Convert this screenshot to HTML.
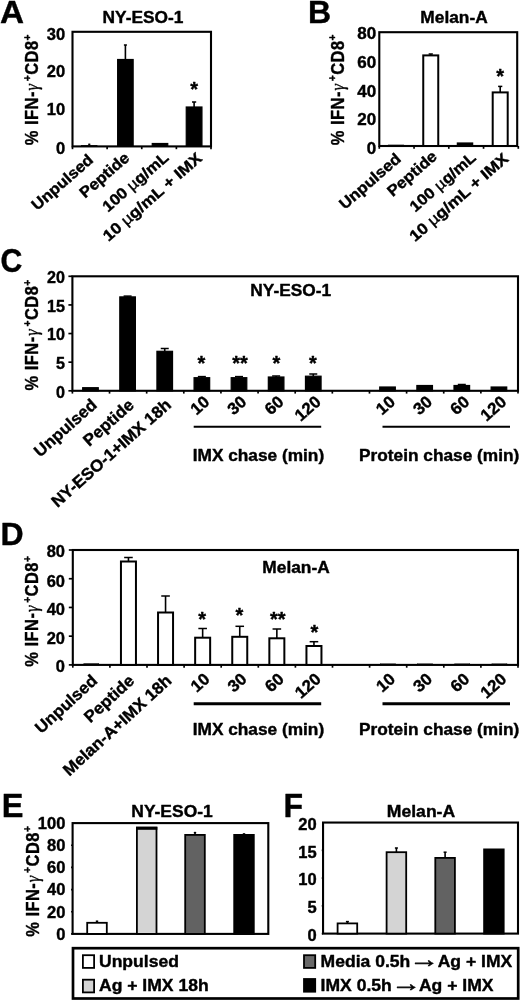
<!DOCTYPE html>
<html><head><meta charset="utf-8"><title>Figure</title>
<style>
html,body{margin:0;padding:0;background:#fff;}
svg{display:block;font-family:"Liberation Sans", Arial, sans-serif;font-weight:bold;fill:#000;}
text{stroke:#000;stroke-width:0.4px;stroke-linejoin:round;}
</style></head><body>
<svg width="520" height="1001" viewBox="0 0 520 1001">
<rect width="520" height="1001" fill="#fff" stroke="none"/>
<text transform="translate(0,23.1) scale(1.04,1)" font-size="32" >A</text>
<rect x="72.5" y="31.8" width="138.5" height="114.6" fill="none" stroke="#000" stroke-width="2.1"/>
<text transform="translate(65.2,40.2)" font-size="16.5" text-anchor="end" >30</text>
<text transform="translate(65.2,76.9)" font-size="16.5" text-anchor="end" >20</text>
<text transform="translate(65.2,115.4)" font-size="16.5" text-anchor="end" >10</text>
<text transform="translate(65.2,154.1)" font-size="16.5" text-anchor="end" >0</text>
<line x1="72.5" y1="146.4" x2="72.5" y2="149.2" stroke="#000" stroke-width="1.68"/>
<line x1="107.12" y1="146.4" x2="107.12" y2="149.2" stroke="#000" stroke-width="1.68"/>
<line x1="141.75" y1="146.4" x2="141.75" y2="149.2" stroke="#000" stroke-width="1.68"/>
<line x1="176.38" y1="146.4" x2="176.38" y2="149.2" stroke="#000" stroke-width="1.68"/>
<line x1="211" y1="146.4" x2="211" y2="149.2" stroke="#000" stroke-width="1.68"/>
<text transform="translate(143,22.8) scale(1.05,1)" font-size="16.5" text-anchor="middle" >NY-ESO-1</text>
<text transform="translate(38.2,89.6) rotate(-90) scale(0.889,1)" font-size="18.5" text-anchor="middle" letter-spacing="0.55">% IFN-<tspan dx="0.6" font-family="Liberation Serif, serif" font-style="italic" font-weight="normal">γ</tspan><tspan dx="2.6" dy="-7.2" font-size="11.5">+</tspan><tspan dy="7.2">CD8</tspan><tspan dy="-7.2" font-size="11.5">+</tspan></text>
<line x1="89.3" y1="144.3" x2="89.3" y2="145.3" stroke="#000" stroke-width="1.6"/>
<line x1="88.3" y1="144.3" x2="90.3" y2="144.3" stroke="#000" stroke-width="1.5"/>
<rect x="81.55" y="145.3" width="15.5" height="1.1" fill="#000" stroke="#000" stroke-width="0.6"/>
<line x1="125.4" y1="45" x2="125.4" y2="59.5" stroke="#000" stroke-width="1.6"/>
<line x1="123.9" y1="45" x2="126.9" y2="45" stroke="#000" stroke-width="1.5"/>
<rect x="117.65" y="59.5" width="15.5" height="86.9" fill="#000" stroke="#000" stroke-width="1.2"/>
<rect x="152.25" y="143.5" width="15.5" height="2.9" fill="#000" stroke="#000" stroke-width="1.2"/>
<line x1="194.1" y1="102" x2="194.1" y2="107" stroke="#000" stroke-width="1.6"/>
<line x1="192" y1="102" x2="196.2" y2="102" stroke="#000" stroke-width="1.5"/>
<rect x="186.25" y="107" width="15.7" height="39.4" fill="#000" stroke="#000" stroke-width="1.2"/>
<text transform="translate(194.1,96.2)" font-size="20" text-anchor="middle" >*</text>
<text transform="translate(94.3,161.3) rotate(-41) scale(1.075,1)" font-size="15.5" text-anchor="end" >Unpulsed</text>
<text transform="translate(130.4,159.3) rotate(-41) scale(1.075,1)" font-size="15.5" text-anchor="end" >Peptide</text>
<text transform="translate(169.6,159) rotate(-41) scale(1.075,1)" font-size="15.5" text-anchor="end" >100 <tspan font-weight="normal">µ</tspan>g/mL</text>
<text transform="translate(203,159.7) rotate(-41) scale(1.115,1)" font-size="15.5" text-anchor="end" >10 <tspan font-weight="normal">µ</tspan>g/mL + IMX</text>
<text transform="translate(307.9,22.65)" font-size="32" >B</text>
<rect x="379.3" y="32.2" width="137.9" height="113.8" fill="none" stroke="#000" stroke-width="2.1"/>
<text transform="translate(376.2,39.4) scale(1.045,1)" font-size="16.3" text-anchor="end" >80</text>
<text transform="translate(376.2,68) scale(1.045,1)" font-size="16.3" text-anchor="end" >60</text>
<text transform="translate(376.2,96.5) scale(1.045,1)" font-size="16.3" text-anchor="end" >40</text>
<text transform="translate(376.2,125.1) scale(1.045,1)" font-size="16.3" text-anchor="end" >20</text>
<text transform="translate(376.2,153.7) scale(1.045,1)" font-size="16.3" text-anchor="end" >0</text>
<line x1="379.3" y1="146" x2="379.3" y2="148.8" stroke="#000" stroke-width="1.68"/>
<line x1="414.05" y1="146" x2="414.05" y2="148.8" stroke="#000" stroke-width="1.68"/>
<line x1="448.8" y1="146" x2="448.8" y2="148.8" stroke="#000" stroke-width="1.68"/>
<line x1="483.55" y1="146" x2="483.55" y2="148.8" stroke="#000" stroke-width="1.68"/>
<line x1="518.3" y1="146" x2="518.3" y2="148.8" stroke="#000" stroke-width="1.68"/>
<text transform="translate(454,22.8) scale(1.05,1)" font-size="16.5" text-anchor="middle" >Melan-A</text>
<text transform="translate(343.5,89.6) rotate(-90) scale(0.889,1)" font-size="18.5" text-anchor="middle" letter-spacing="0.55">% IFN-<tspan dx="0.6" font-family="Liberation Serif, serif" font-style="italic" font-weight="normal">γ</tspan><tspan dx="2.6" dy="-7.2" font-size="11.5">+</tspan><tspan dy="7.2">CD8</tspan><tspan dy="-7.2" font-size="11.5">+</tspan></text>
<rect x="388.25" y="145" width="15.5" height="1" fill="#000" stroke="#000" stroke-width="0.6"/>
<line x1="430.75" y1="54" x2="430.75" y2="55.4" stroke="#000" stroke-width="1.6"/>
<line x1="428.65" y1="54" x2="432.85" y2="54" stroke="#000" stroke-width="1.5"/>
<rect x="423.25" y="55.4" width="15" height="90.6" fill="#fff" stroke="#000" stroke-width="2"/>
<rect x="457.35" y="143" width="15.3" height="3" fill="#000" stroke="#000" stroke-width="1.2"/>
<line x1="500.2" y1="86.4" x2="500.2" y2="92.4" stroke="#000" stroke-width="1.6"/>
<line x1="498.1" y1="86.4" x2="502.3" y2="86.4" stroke="#000" stroke-width="1.5"/>
<rect x="492.7" y="92.4" width="15" height="53.6" fill="#fff" stroke="#000" stroke-width="2"/>
<text transform="translate(500.2,83)" font-size="20" text-anchor="middle" >*</text>
<text transform="translate(402,160.3) rotate(-41) scale(1.075,1)" font-size="15.5" text-anchor="end" >Unpulsed</text>
<text transform="translate(438.05,157.8) rotate(-41) scale(1.075,1)" font-size="15.5" text-anchor="end" >Peptide</text>
<text transform="translate(476.9,159) rotate(-41) scale(1.075,1)" font-size="15.5" text-anchor="end" >100 <tspan font-weight="normal">µ</tspan>g/mL</text>
<text transform="translate(509.5,160.1) rotate(-41) scale(1.115,1)" font-size="15.5" text-anchor="end" >10 <tspan font-weight="normal">µ</tspan>g/mL + IMX</text>
<text transform="translate(0.4,271.9) scale(0.93,1)" font-size="32.5" >C</text>
<rect x="72.4" y="276.3" width="445.6" height="114.5" fill="none" stroke="#000" stroke-width="2.1"/>
<text transform="translate(64.85,283) scale(0.977,1)" font-size="16.5" text-anchor="end" >20</text>
<text transform="translate(64.85,311.62) scale(0.977,1)" font-size="16.5" text-anchor="end" >15</text>
<text transform="translate(64.85,340.25) scale(0.977,1)" font-size="16.5" text-anchor="end" >10</text>
<text transform="translate(64.85,368.88) scale(0.977,1)" font-size="16.5" text-anchor="end" >5</text>
<text transform="translate(64.85,397.5) scale(0.977,1)" font-size="16.5" text-anchor="end" >0</text>
<line x1="72.4" y1="390.8" x2="72.4" y2="393.6" stroke="#000" stroke-width="1.68"/>
<line x1="109.53" y1="390.8" x2="109.53" y2="393.6" stroke="#000" stroke-width="1.68"/>
<line x1="146.67" y1="390.8" x2="146.67" y2="393.6" stroke="#000" stroke-width="1.68"/>
<line x1="183.8" y1="390.8" x2="183.8" y2="393.6" stroke="#000" stroke-width="1.68"/>
<line x1="220.93" y1="390.8" x2="220.93" y2="393.6" stroke="#000" stroke-width="1.68"/>
<line x1="258.07" y1="390.8" x2="258.07" y2="393.6" stroke="#000" stroke-width="1.68"/>
<line x1="295.2" y1="390.8" x2="295.2" y2="393.6" stroke="#000" stroke-width="1.68"/>
<line x1="332.33" y1="390.8" x2="332.33" y2="393.6" stroke="#000" stroke-width="1.68"/>
<line x1="369.47" y1="390.8" x2="369.47" y2="393.6" stroke="#000" stroke-width="1.68"/>
<line x1="406.6" y1="390.8" x2="406.6" y2="393.6" stroke="#000" stroke-width="1.68"/>
<line x1="443.73" y1="390.8" x2="443.73" y2="393.6" stroke="#000" stroke-width="1.68"/>
<line x1="480.87" y1="390.8" x2="480.87" y2="393.6" stroke="#000" stroke-width="1.68"/>
<line x1="518" y1="390.8" x2="518" y2="393.6" stroke="#000" stroke-width="1.68"/>
<line x1="68.4" y1="276.3" x2="72.4" y2="276.3" stroke="#000" stroke-width="1.68"/>
<line x1="68.4" y1="304.93" x2="72.4" y2="304.93" stroke="#000" stroke-width="1.68"/>
<line x1="68.4" y1="333.55" x2="72.4" y2="333.55" stroke="#000" stroke-width="1.68"/>
<line x1="68.4" y1="362.18" x2="72.4" y2="362.18" stroke="#000" stroke-width="1.68"/>
<line x1="68.4" y1="390.8" x2="72.4" y2="390.8" stroke="#000" stroke-width="1.68"/>
<text transform="translate(290.7,295.8) scale(1.05,1)" font-size="16.5" text-anchor="middle" >NY-ESO-1</text>
<text transform="translate(37.9,334.8) rotate(-90) scale(0.889,1)" font-size="18.5" text-anchor="middle" letter-spacing="0.55">% IFN-<tspan dx="0.6" font-family="Liberation Serif, serif" font-style="italic" font-weight="normal">γ</tspan><tspan dx="2.6" dy="-7.2" font-size="11.5">+</tspan><tspan dy="7.2">CD8</tspan><tspan dy="-7.2" font-size="11.5">+</tspan></text>
<rect x="82.67" y="387.7" width="15.6" height="3.1" fill="#000" stroke="#000" stroke-width="1.2"/>
<line x1="127.6" y1="296.1" x2="127.6" y2="296.9" stroke="#000" stroke-width="1.6"/>
<line x1="123.6" y1="296.1" x2="131.6" y2="296.1" stroke="#000" stroke-width="1.5"/>
<rect x="119.8" y="296.9" width="15.6" height="93.9" fill="#000" stroke="#000" stroke-width="1.2"/>
<line x1="164.73" y1="348.5" x2="164.73" y2="351.3" stroke="#000" stroke-width="1.6"/>
<line x1="160.73" y1="348.5" x2="168.73" y2="348.5" stroke="#000" stroke-width="1.5"/>
<rect x="156.93" y="351.3" width="15.6" height="39.5" fill="#000" stroke="#000" stroke-width="1.2"/>
<line x1="201.87" y1="376.6" x2="201.87" y2="377.7" stroke="#000" stroke-width="1.6"/>
<line x1="197.87" y1="376.6" x2="205.87" y2="376.6" stroke="#000" stroke-width="1.5"/>
<rect x="194.07" y="377.7" width="15.6" height="13.1" fill="#000" stroke="#000" stroke-width="1.2"/>
<line x1="239" y1="376.6" x2="239" y2="377.7" stroke="#000" stroke-width="1.6"/>
<line x1="235" y1="376.6" x2="243" y2="376.6" stroke="#000" stroke-width="1.5"/>
<rect x="231.2" y="377.7" width="15.6" height="13.1" fill="#000" stroke="#000" stroke-width="1.2"/>
<line x1="276.13" y1="376" x2="276.13" y2="377" stroke="#000" stroke-width="1.6"/>
<line x1="272.13" y1="376" x2="280.13" y2="376" stroke="#000" stroke-width="1.5"/>
<rect x="268.33" y="377" width="15.6" height="13.8" fill="#000" stroke="#000" stroke-width="1.2"/>
<line x1="313.27" y1="374" x2="313.27" y2="376.2" stroke="#000" stroke-width="1.6"/>
<line x1="309.27" y1="374" x2="317.27" y2="374" stroke="#000" stroke-width="1.5"/>
<rect x="305.47" y="376.2" width="15.6" height="14.6" fill="#000" stroke="#000" stroke-width="1.2"/>
<rect x="379.73" y="387" width="15.6" height="3.8" fill="#000" stroke="#000" stroke-width="1.2"/>
<rect x="416.87" y="385.5" width="15.6" height="5.3" fill="#000" stroke="#000" stroke-width="1.2"/>
<line x1="461.8" y1="384.5" x2="461.8" y2="385.5" stroke="#000" stroke-width="1.6"/>
<line x1="457.8" y1="384.5" x2="465.8" y2="384.5" stroke="#000" stroke-width="1.5"/>
<rect x="454" y="385.5" width="15.6" height="5.3" fill="#000" stroke="#000" stroke-width="1.2"/>
<rect x="491.13" y="387" width="15.6" height="3.8" fill="#000" stroke="#000" stroke-width="1.2"/>
<text transform="translate(201.5,369.5)" font-size="20" text-anchor="middle" >*</text>
<text transform="translate(240,370.3)" font-size="20" text-anchor="middle" >**</text>
<text transform="translate(276.3,369.7)" font-size="20" text-anchor="middle" >*</text>
<text transform="translate(313,369.7)" font-size="20" text-anchor="middle" >*</text>
<text transform="translate(97.97,406.4) rotate(-41.5) scale(1.03,1)" font-size="16.5" text-anchor="end" >Unpulsed</text>
<text transform="translate(135.1,406.4) rotate(-41.5) scale(1.03,1)" font-size="16.5" text-anchor="end" >Peptide</text>
<text transform="translate(172.23,406.4) rotate(-41.5) scale(1.03,1)" font-size="16.5" text-anchor="end" >NY-ESO-1+IMX 18h</text>
<text transform="translate(210.57,403.2) rotate(-41.5) scale(1.03,1)" font-size="16.5" text-anchor="end" >10</text>
<text transform="translate(247.7,403.2) rotate(-41.5) scale(1.03,1)" font-size="16.5" text-anchor="end" >30</text>
<text transform="translate(284.83,403.2) rotate(-41.5) scale(1.03,1)" font-size="16.5" text-anchor="end" >60</text>
<text transform="translate(321.97,403.2) rotate(-41.5) scale(1.03,1)" font-size="16.5" text-anchor="end" >120</text>
<text transform="translate(396.23,403.2) rotate(-41.5) scale(1.03,1)" font-size="16.5" text-anchor="end" >10</text>
<text transform="translate(433.37,403.2) rotate(-41.5) scale(1.03,1)" font-size="16.5" text-anchor="end" >30</text>
<text transform="translate(470.5,403.2) rotate(-41.5) scale(1.03,1)" font-size="16.5" text-anchor="end" >60</text>
<text transform="translate(507.63,403.2) rotate(-41.5) scale(1.03,1)" font-size="16.5" text-anchor="end" >120</text>
<line x1="193.7" y1="426.8" x2="321.2" y2="426.8" stroke="#000" stroke-width="2"/>
<line x1="382.5" y1="426.8" x2="510" y2="426.8" stroke="#000" stroke-width="2"/>
<text transform="translate(192.7,460.5) scale(1.08,1)" font-size="16" >IMX chase (min)</text>
<text transform="translate(359,460.5) scale(1.08,1)" font-size="16" >Protein chase (min)</text>
<text transform="translate(0.4,545.4)" font-size="32" >D</text>
<rect x="72.8" y="550" width="445.2" height="114.9" fill="none" stroke="#000" stroke-width="2.1"/>
<text transform="translate(65,557.2) scale(0.97,1)" font-size="17" text-anchor="end" >80</text>
<text transform="translate(65,586.53) scale(0.97,1)" font-size="17" text-anchor="end" >60</text>
<text transform="translate(65,615.25) scale(0.97,1)" font-size="17" text-anchor="end" >40</text>
<text transform="translate(65,643.98) scale(0.97,1)" font-size="17" text-anchor="end" >20</text>
<text transform="translate(65,672.1) scale(0.97,1)" font-size="17" text-anchor="end" >0</text>
<line x1="72.8" y1="664.9" x2="72.8" y2="667.7" stroke="#000" stroke-width="1.68"/>
<line x1="109.9" y1="664.9" x2="109.9" y2="667.7" stroke="#000" stroke-width="1.68"/>
<line x1="147" y1="664.9" x2="147" y2="667.7" stroke="#000" stroke-width="1.68"/>
<line x1="184.1" y1="664.9" x2="184.1" y2="667.7" stroke="#000" stroke-width="1.68"/>
<line x1="221.2" y1="664.9" x2="221.2" y2="667.7" stroke="#000" stroke-width="1.68"/>
<line x1="258.3" y1="664.9" x2="258.3" y2="667.7" stroke="#000" stroke-width="1.68"/>
<line x1="295.4" y1="664.9" x2="295.4" y2="667.7" stroke="#000" stroke-width="1.68"/>
<line x1="332.5" y1="664.9" x2="332.5" y2="667.7" stroke="#000" stroke-width="1.68"/>
<line x1="369.6" y1="664.9" x2="369.6" y2="667.7" stroke="#000" stroke-width="1.68"/>
<line x1="406.7" y1="664.9" x2="406.7" y2="667.7" stroke="#000" stroke-width="1.68"/>
<line x1="443.8" y1="664.9" x2="443.8" y2="667.7" stroke="#000" stroke-width="1.68"/>
<line x1="480.9" y1="664.9" x2="480.9" y2="667.7" stroke="#000" stroke-width="1.68"/>
<line x1="518" y1="664.9" x2="518" y2="667.7" stroke="#000" stroke-width="1.68"/>
<line x1="68.8" y1="550" x2="72.8" y2="550" stroke="#000" stroke-width="1.68"/>
<line x1="68.8" y1="578.73" x2="72.8" y2="578.73" stroke="#000" stroke-width="1.68"/>
<line x1="68.8" y1="607.45" x2="72.8" y2="607.45" stroke="#000" stroke-width="1.68"/>
<line x1="68.8" y1="636.17" x2="72.8" y2="636.17" stroke="#000" stroke-width="1.68"/>
<line x1="68.8" y1="664.9" x2="72.8" y2="664.9" stroke="#000" stroke-width="1.68"/>
<text transform="translate(296,572.8) scale(1.05,1)" font-size="16.5" text-anchor="middle" >Melan-A</text>
<text transform="translate(37.9,611.15) rotate(-90) scale(0.889,1)" font-size="18.5" text-anchor="middle" letter-spacing="0.55">% IFN-<tspan dx="0.6" font-family="Liberation Serif, serif" font-style="italic" font-weight="normal">γ</tspan><tspan dx="2.6" dy="-7.2" font-size="11.5">+</tspan><tspan dy="7.2">CD8</tspan><tspan dy="-7.2" font-size="11.5">+</tspan></text>
<rect x="83.85" y="663.5" width="15" height="1.4" fill="#000" stroke="#000" stroke-width="0.3"/>
<line x1="128.45" y1="557.5" x2="128.45" y2="561.5" stroke="#000" stroke-width="1.6"/>
<line x1="124.15" y1="557.5" x2="132.75" y2="557.5" stroke="#000" stroke-width="1.5"/>
<rect x="120.95" y="561.5" width="15" height="103.4" fill="#fff" stroke="#000" stroke-width="2"/>
<line x1="165.55" y1="596" x2="165.55" y2="612.5" stroke="#000" stroke-width="1.6"/>
<line x1="161.25" y1="596" x2="169.85" y2="596" stroke="#000" stroke-width="1.5"/>
<rect x="158.05" y="612.5" width="15" height="52.4" fill="#fff" stroke="#000" stroke-width="2"/>
<line x1="202.65" y1="628.5" x2="202.65" y2="637.7" stroke="#000" stroke-width="1.6"/>
<line x1="198.35" y1="628.5" x2="206.95" y2="628.5" stroke="#000" stroke-width="1.5"/>
<rect x="195.15" y="637.7" width="15" height="27.2" fill="#fff" stroke="#000" stroke-width="2"/>
<line x1="239.75" y1="626.3" x2="239.75" y2="636.8" stroke="#000" stroke-width="1.6"/>
<line x1="235.45" y1="626.3" x2="244.05" y2="626.3" stroke="#000" stroke-width="1.5"/>
<rect x="232.25" y="636.8" width="15" height="28.1" fill="#fff" stroke="#000" stroke-width="2"/>
<line x1="276.85" y1="629" x2="276.85" y2="638.3" stroke="#000" stroke-width="1.6"/>
<line x1="272.55" y1="629" x2="281.15" y2="629" stroke="#000" stroke-width="1.5"/>
<rect x="269.35" y="638.3" width="15" height="26.6" fill="#fff" stroke="#000" stroke-width="2"/>
<line x1="313.95" y1="641.7" x2="313.95" y2="646" stroke="#000" stroke-width="1.6"/>
<line x1="309.65" y1="641.7" x2="318.25" y2="641.7" stroke="#000" stroke-width="1.5"/>
<rect x="306.45" y="646" width="15" height="18.9" fill="#fff" stroke="#000" stroke-width="2"/>
<rect x="380.65" y="663.8" width="15" height="1.1" fill="#000" stroke="#000" stroke-width="0.3"/>
<rect x="417.75" y="663.8" width="15" height="1.1" fill="#000" stroke="#000" stroke-width="0.3"/>
<rect x="454.85" y="663.8" width="15" height="1.1" fill="#000" stroke="#000" stroke-width="0.3"/>
<rect x="491.95" y="663.8" width="15" height="1.1" fill="#000" stroke="#000" stroke-width="0.3"/>
<text transform="translate(202.2,626.2)" font-size="20" text-anchor="middle" >*</text>
<text transform="translate(239.4,621.7)" font-size="20" text-anchor="middle" >*</text>
<text transform="translate(277.8,626.2)" font-size="20" text-anchor="middle" >**</text>
<text transform="translate(314.5,639.2)" font-size="20" text-anchor="middle" >*</text>
<text transform="translate(98.35,682) rotate(-42.5) scale(1.03,1)" font-size="16.5" text-anchor="end" >Unpulsed</text>
<text transform="translate(135.45,682) rotate(-42.5) scale(1.03,1)" font-size="16.5" text-anchor="end" >Peptide</text>
<text transform="translate(172.55,682) rotate(-42.5) scale(1.03,1)" font-size="16.5" text-anchor="end" >Melan-A+IMX 18h</text>
<text transform="translate(210.85,680.5) rotate(-41.5) scale(1.03,1)" font-size="16.5" text-anchor="end" >10</text>
<text transform="translate(247.95,680.5) rotate(-41.5) scale(1.03,1)" font-size="16.5" text-anchor="end" >30</text>
<text transform="translate(285.05,680.5) rotate(-41.5) scale(1.03,1)" font-size="16.5" text-anchor="end" >60</text>
<text transform="translate(322.15,680.5) rotate(-41.5) scale(1.03,1)" font-size="16.5" text-anchor="end" >120</text>
<text transform="translate(396.35,680.5) rotate(-41.5) scale(1.03,1)" font-size="16.5" text-anchor="end" >10</text>
<text transform="translate(433.45,680.5) rotate(-41.5) scale(1.03,1)" font-size="16.5" text-anchor="end" >30</text>
<text transform="translate(470.55,680.5) rotate(-41.5) scale(1.03,1)" font-size="16.5" text-anchor="end" >60</text>
<text transform="translate(507.65,680.5) rotate(-41.5) scale(1.03,1)" font-size="16.5" text-anchor="end" >120</text>
<line x1="193.7" y1="703.7" x2="321.2" y2="703.7" stroke="#000" stroke-width="3"/>
<line x1="382.5" y1="703.7" x2="510" y2="703.7" stroke="#000" stroke-width="3"/>
<text transform="translate(192.7,735) scale(1.08,1)" font-size="16" >IMX chase (min)</text>
<text transform="translate(359,735) scale(1.08,1)" font-size="16" >Protein chase (min)</text>
<text transform="translate(1.85,816.7)" font-size="32.5" >E</text>
<rect x="72.6" y="823.1" width="195.7" height="110.8" fill="none" stroke="#000" stroke-width="2.1"/>
<text transform="translate(65.4,828.95)" font-size="16.5" text-anchor="end" >100</text>
<text transform="translate(65.4,851.11)" font-size="16.5" text-anchor="end" >80</text>
<text transform="translate(65.4,873.27)" font-size="16.5" text-anchor="end" >60</text>
<text transform="translate(65.4,895.43)" font-size="16.5" text-anchor="end" >40</text>
<text transform="translate(65.4,917.59)" font-size="16.5" text-anchor="end" >20</text>
<text transform="translate(65.4,939.75)" font-size="16.5" text-anchor="end" >0</text>
<line x1="71.1" y1="845.26" x2="72.6" y2="845.26" stroke="#000" stroke-width="1.68"/>
<line x1="71.1" y1="867.42" x2="72.6" y2="867.42" stroke="#000" stroke-width="1.68"/>
<line x1="71.1" y1="889.58" x2="72.6" y2="889.58" stroke="#000" stroke-width="1.68"/>
<line x1="71.1" y1="911.74" x2="72.6" y2="911.74" stroke="#000" stroke-width="1.68"/>
<line x1="71.1" y1="933.9" x2="72.6" y2="933.9" stroke="#000" stroke-width="1.68"/>
<text transform="translate(172,816.5) scale(1.058,1)" font-size="16.5" text-anchor="middle" >NY-ESO-1</text>
<text transform="translate(38.5,881.2) rotate(-90) scale(0.889,1)" font-size="18.5" text-anchor="middle" letter-spacing="0.55">% IFN-<tspan dx="0.6" font-family="Liberation Serif, serif" font-style="italic" font-weight="normal">γ</tspan><tspan dx="2.6" dy="-7.2" font-size="11.5">+</tspan><tspan dy="7.2">CD8</tspan><tspan dy="-7.2" font-size="11.5">+</tspan></text>
<line x1="97" y1="921.2" x2="97" y2="922.8" stroke="#000" stroke-width="1.6"/>
<line x1="95.8" y1="921.2" x2="98.2" y2="921.2" stroke="#000" stroke-width="1.5"/>
<rect x="87.2" y="922.8" width="19.6" height="11.1" fill="#fff" stroke="#000" stroke-width="1.8"/>
<rect x="136.9" y="827.6" width="19.6" height="106.3" fill="#d4d4d4" stroke="#000" stroke-width="1.8"/>
<line x1="195" y1="832.6" x2="195" y2="834.9" stroke="#000" stroke-width="1.6"/>
<line x1="193.8" y1="832.6" x2="196.2" y2="832.6" stroke="#000" stroke-width="1.5"/>
<rect x="185.2" y="834.9" width="19.6" height="99" fill="#626262" stroke="#000" stroke-width="1.8"/>
<line x1="244" y1="833.9" x2="244" y2="834.9" stroke="#000" stroke-width="1.6"/>
<line x1="242.8" y1="833.9" x2="245.2" y2="833.9" stroke="#000" stroke-width="1.5"/>
<rect x="234.2" y="834.9" width="19.6" height="99" fill="#000" stroke="#000" stroke-width="1.8"/>
<line x1="136.1" y1="828.3" x2="157.3" y2="828.3" stroke="#000" stroke-width="3"/>
<text transform="translate(283.4,816.9) scale(0.97,1)" font-size="33" >F</text>
<rect x="323.05" y="822.55" width="194.95" height="111.05" fill="none" stroke="#000" stroke-width="2.1"/>
<text transform="translate(316.7,829.95)" font-size="16.5" text-anchor="end" >20</text>
<text transform="translate(316.7,857.71)" font-size="16.5" text-anchor="end" >15</text>
<text transform="translate(316.7,885.48)" font-size="16.5" text-anchor="end" >10</text>
<text transform="translate(316.7,913.24)" font-size="16.5" text-anchor="end" >5</text>
<text transform="translate(316.7,941)" font-size="16.5" text-anchor="end" >0</text>
<line x1="321.75" y1="850.31" x2="323.05" y2="850.31" stroke="#000" stroke-width="1.68"/>
<line x1="321.75" y1="878.08" x2="323.05" y2="878.08" stroke="#000" stroke-width="1.68"/>
<line x1="321.75" y1="905.84" x2="323.05" y2="905.84" stroke="#000" stroke-width="1.68"/>
<line x1="321.75" y1="933.6" x2="323.05" y2="933.6" stroke="#000" stroke-width="1.68"/>
<text transform="translate(421,816.5) scale(1.065,1)" font-size="16.5" text-anchor="middle" >Melan-A</text>
<line x1="347.4" y1="921.6" x2="347.4" y2="923.4" stroke="#000" stroke-width="1.6"/>
<line x1="345.9" y1="921.6" x2="348.9" y2="921.6" stroke="#000" stroke-width="1.5"/>
<rect x="337.6" y="923.4" width="19.6" height="10.2" fill="#fff" stroke="#000" stroke-width="1.8"/>
<line x1="396.4" y1="848" x2="396.4" y2="852.2" stroke="#000" stroke-width="1.6"/>
<line x1="394.9" y1="848" x2="397.9" y2="848" stroke="#000" stroke-width="1.5"/>
<rect x="386.6" y="852.2" width="19.6" height="81.4" fill="#d4d4d4" stroke="#000" stroke-width="1.8"/>
<line x1="445.1" y1="852.2" x2="445.1" y2="857.9" stroke="#000" stroke-width="1.6"/>
<line x1="443.6" y1="852.2" x2="446.6" y2="852.2" stroke="#000" stroke-width="1.5"/>
<rect x="435.3" y="857.9" width="19.6" height="75.7" fill="#626262" stroke="#000" stroke-width="1.8"/>
<rect x="484.1" y="849.4" width="19.6" height="84.2" fill="#000" stroke="#000" stroke-width="1.8"/>
<rect x="73" y="948.2" width="445.2" height="50.3" fill="#fff" stroke="#000" stroke-width="2.7"/>
<rect x="82.9" y="955.2" width="11.2" height="12.7" fill="#fff" stroke="#000" stroke-width="1.8"/>
<text transform="translate(99,966.9) scale(1.064,1)" font-size="16.5" >Unpulsed</text>
<rect x="82.9" y="979.7" width="11.2" height="12.7" fill="#d4d4d4" stroke="#000" stroke-width="1.8"/>
<text transform="translate(99,991.4) scale(1.064,1)" font-size="16.5" >Ag + IMX 18h</text>
<rect x="304" y="955.2" width="11.2" height="12.7" fill="#686868" stroke="#000" stroke-width="1.8"/>
<text transform="translate(320.6,966.9) scale(1.064,1)" font-size="16.5" >Media 0.5h</text>
<text transform="translate(408.8,967.25) scale(1.9,1.45)" font-size="16" >→</text>
<text transform="translate(437.7,966.9) scale(1.064,1)" font-size="16.5" >Ag + IMX</text>
<rect x="304" y="979" width="11.2" height="12.7" fill="#000" stroke="#000" stroke-width="1.8"/>
<text transform="translate(320.6,991.4) scale(1.064,1)" font-size="16.5" >IMX 0.5h</text>
<text transform="translate(390.8,991.05) scale(1.9,1.45)" font-size="16" >→</text>
<text transform="translate(418.9,991.4) scale(1.064,1)" font-size="16.5" >Ag + IMX</text>
</svg>
</body></html>
